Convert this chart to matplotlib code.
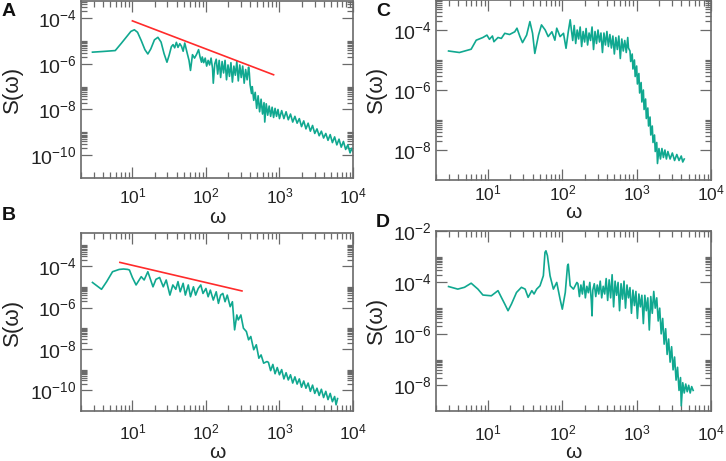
import numpy as np
import matplotlib
matplotlib.use("Agg")
import matplotlib.pyplot as plt
from matplotlib.ticker import FixedLocator, FuncFormatter, NullFormatter

plt.rcParams['font.family'] = ['Liberation Sans', 'DejaVu Sans']

# spectra, stored as log10(omega), log10(S)
a_lw = [0.457, 0.60, 0.767, 0.85, 0.93, 0.98, 1.027, 1.07, 1.12, 1.17, 1.21, 1.25, 1.30, 1.347,
        1.39, 1.43, 1.47, 1.50, 1.53, 1.553, 1.575, 1.598, 1.62, 1.645, 1.667, 1.69, 1.712, 1.744,
        1.77, 1.79, 1.817, 1.845, 1.872, 1.90, 1.92, 1.94,
        1.95, 1.97, 1.99, 2.01, 2.03, 2.05, 2.07, 2.09, 2.10, 2.12, 2.14, 2.16, 2.18, 2.20, 2.22,
        2.24, 2.26, 2.28, 2.30, 2.32, 2.34, 2.36, 2.38, 2.40, 2.42, 2.44, 2.46, 2.48, 2.50, 2.52,
        2.54, 2.56, 2.58, 2.59, 2.60, 2.62, 2.63, 2.65, 2.67, 2.69, 2.71, 2.73, 2.75, 2.77, 2.79,
        2.80, 2.82, 2.84, 2.86, 2.88, 2.90, 2.92, 2.94, 2.96, 2.98, 3.00, 3.03, 3.06, 3.09, 3.12,
        3.15, 3.18, 3.21, 3.24, 3.27, 3.30, 3.33, 3.36, 3.39, 3.42, 3.45, 3.48, 3.51, 3.54, 3.57,
        3.60, 3.63, 3.66, 3.69, 3.72, 3.75, 3.78, 3.81, 3.84, 3.87, 3.90, 3.93, 3.96, 3.98, 4.00]
a_ls = [-5.49, -5.46, -5.42, -5.10, -4.78, -4.58, -4.51, -4.62, -4.98, -5.38, -5.57, -5.35, -4.95, -4.84,
        -5.05, -5.55, -5.93, -5.62, -5.25, -5.16, -5.30, -5.06, -5.28, -5.12, -5.23, -5.45, -5.09, -5.52,
        -5.85, -6.29, -5.60, -5.75, -5.59, -5.38, -5.70, -5.93,
        -5.70, -5.95, -5.75, -6.10, -5.85, -6.05, -5.75, -6.20, -6.85, -6.00, -5.80, -6.45, -5.85, -6.60, -5.90,
        -6.40, -5.85, -6.70, -6.05, -6.55, -5.95, -6.80, -6.10, -6.50, -5.90, -6.75, -6.05, -6.60, -6.10, -6.85,
        -6.25, -6.70, -6.15, -6.40, -6.90, -7.30, -7.00, -7.60, -7.25, -7.95, -7.40, -8.10, -7.55, -8.20, -7.70,
        -8.55, -7.75, -8.25, -7.85, -8.30, -7.90, -8.35, -7.95, -8.30, -8.00, -8.40, -8.05, -8.40, -8.10, -8.45,
        -8.20, -8.55, -8.30, -8.60, -8.40, -8.75, -8.50, -8.85, -8.60, -8.95, -8.70, -9.05, -8.85, -9.15, -8.95,
        -9.25, -9.05, -9.35, -9.10, -9.45, -9.20, -9.55, -9.30, -9.65, -9.40, -9.75, -9.55, -9.90, -9.70, -9.85]

b_lw = [0.457, 0.58, 0.65, 0.73, 0.82, 0.88, 0.936, 0.96, 1.00, 1.05, 1.12, 1.16, 1.21, 1.28, 1.32,
        1.37, 1.42, 1.46, 1.51, 1.55, 1.59, 1.62, 1.65, 1.69, 1.72, 1.76, 1.79, 1.83, 1.86, 1.895,
        1.93, 1.96, 2.00, 2.03, 2.06, 2.10, 2.14, 2.17, 2.20, 2.23, 2.26, 2.29, 2.33, 2.36, 2.39,
        2.42, 2.44, 2.475, 2.51, 2.55, 2.58, 2.61, 2.65, 2.685, 2.72, 2.75, 2.785, 2.83,
        2.85, 2.88, 2.91, 2.94, 2.97, 3.00, 3.03, 3.06, 3.09, 3.12, 3.15, 3.18, 3.21, 3.24, 3.27,
        3.30, 3.33, 3.36, 3.39, 3.42, 3.45, 3.48, 3.51, 3.54, 3.57, 3.60, 3.63, 3.66, 3.69, 3.72,
        3.75, 3.77, 3.79]
b_ls = [-4.79, -5.12, -4.75, -4.27, -4.16, -4.14, -4.16, -4.19, -4.55, -4.91, -4.51, -4.67, -4.27, -5.00, -4.64,
        -4.55, -5.00, -4.67, -5.40, -4.91, -5.12, -4.75, -5.24, -4.83, -5.40, -4.91, -5.48, -5.00, -5.40, -5.08,
        -4.91, -5.32, -5.08, -5.48, -5.16, -5.64, -5.24, -5.80, -5.40, -5.32, -5.72, -5.40, -5.96, -5.72, -7.08,
        -6.36, -6.60, -6.36, -7.00, -7.16, -7.56, -7.40, -8.04, -7.80, -8.45, -8.29, -8.69, -8.61,
        -8.65, -9.05, -8.75, -9.20, -8.90, -9.25, -9.00, -9.45, -9.15, -9.50, -9.25, -9.65, -9.35, -9.70, -9.45,
        -9.85, -9.55, -9.90, -9.65, -10.05, -9.75, -10.15, -9.90, -10.25, -9.95, -10.35, -10.05, -10.45, -10.15, -10.55,
        -10.30, -10.70, -10.40]

c_lw = [0.47, 0.616, 0.774, 0.842, 0.932, 0.986, 1.02, 1.06, 1.08, 1.135, 1.18, 1.226, 1.29, 1.36,
        1.39, 1.43, 1.465, 1.52, 1.564, 1.60, 1.63, 1.68, 1.72, 1.77, 1.81, 1.86, 1.90, 1.925, 1.97,
        2.016, 2.05, 2.08, 2.106,
        2.12, 2.14, 2.16, 2.18, 2.20, 2.22, 2.24, 2.26, 2.28, 2.30, 2.32, 2.34, 2.36, 2.38, 2.40,
        2.42, 2.44, 2.46, 2.48, 2.50, 2.52, 2.54, 2.56, 2.58, 2.60, 2.62, 2.64, 2.66, 2.68, 2.70,
        2.72, 2.74, 2.76, 2.78, 2.80, 2.82, 2.84, 2.86, 2.88, 2.89, 2.91, 2.92, 2.94, 2.95, 2.97,
        2.98, 3.00, 3.01, 3.03, 3.04, 3.06, 3.07, 3.09, 3.10, 3.12, 3.13, 3.15, 3.16, 3.18, 3.19,
        3.21, 3.22, 3.24, 3.25, 3.27, 3.28, 3.30, 3.32, 3.34, 3.36, 3.38, 3.40, 3.42, 3.45, 3.48,
        3.51, 3.54, 3.57, 3.60, 3.62, 3.64]
c_ls = [-4.70, -4.75, -4.64, -4.34, -4.25, -4.17, -4.31, -4.20, -4.39, -4.25, -4.28, -4.11, -4.15, -4.06,
        -3.94, -4.22, -4.42, -4.17, -3.72, -4.11, -4.78, -4.17, -3.83, -4.00, -4.22, -4.06, -4.34, -3.94, -4.22,
        -4.11, -4.61, -4.06, -3.66,
        -3.95, -4.35, -3.85, -4.45, -4.00, -4.30, -3.90, -4.55, -4.05, -4.40, -3.95, -4.50, -4.10, -4.35, -3.90,
        -4.65, -4.05, -4.45, -4.00, -4.40, -4.10, -4.75, -4.10, -4.50, -4.05, -4.55, -4.15, -4.60, -4.20, -4.80,
        -4.25, -4.65, -4.20, -4.95, -4.30, -4.70, -4.35, -4.75, -4.25, -4.60, -4.70, -5.05, -4.80, -5.30, -5.00,
        -5.55, -5.20, -5.80, -5.45, -6.10, -5.75, -6.40, -6.00, -6.65, -6.30, -6.95, -6.60, -7.20, -6.90, -7.50,
        -7.20, -7.75, -7.50, -8.05, -7.75, -8.45, -7.95, -8.30, -7.95, -8.25, -8.00, -8.30, -8.05, -8.30, -8.10,
        -8.35, -8.15, -8.35, -8.20, -8.40, -8.30]

d_lw = [0.47, 0.594, 0.684, 0.774, 0.865, 0.932, 1.045, 1.135, 1.18, 1.226, 1.27, 1.316, 1.384, 1.45,
        1.50, 1.54, 1.59, 1.62, 1.655, 1.70, 1.745, 1.767, 1.78, 1.80, 1.835, 1.88, 1.925, 1.97, 2.00,
        2.04, 2.07, 2.08, 2.106, 2.15, 2.196,
        2.21, 2.23, 2.25, 2.27, 2.29, 2.31, 2.33, 2.35, 2.37, 2.39, 2.40, 2.41, 2.43, 2.45, 2.47,
        2.49, 2.51, 2.53, 2.55, 2.57, 2.59, 2.61, 2.63, 2.65, 2.67, 2.69, 2.71, 2.73, 2.75, 2.77,
        2.79, 2.81, 2.83, 2.85, 2.87, 2.89, 2.91, 2.93, 2.95, 2.97, 2.99, 3.01, 3.03, 3.05, 3.07,
        3.09, 3.11, 3.13, 3.15, 3.17, 3.19, 3.21, 3.23, 3.25, 3.27, 3.29, 3.31, 3.33, 3.35, 3.37,
        3.39, 3.41, 3.43, 3.45, 3.47, 3.49, 3.51, 3.53, 3.55, 3.57, 3.59, 3.60, 3.62, 3.64, 3.66,
        3.68, 3.70, 3.72, 3.74, 3.76]
d_ls = [-4.16, -4.26, -4.19, -4.03, -4.26, -4.49, -4.52, -4.32, -4.58, -4.84, -5.10, -4.84, -4.39, -4.19,
        -4.26, -4.58, -4.32, -4.45, -4.26, -4.13, -3.74, -2.83, -2.77, -2.96, -3.74, -4.26, -4.00, -4.65, -5.04,
        -4.39, -3.35, -3.29, -4.13, -4.26, -4.00,
        -4.05, -4.55, -4.10, -4.45, -3.95, -4.60, -4.15, -4.40, -4.00, -4.70, -5.30, -4.30, -4.05, -4.55, -4.10,
        -4.45, -3.95, -4.60, -4.15, -4.45, -3.85, -4.70, -3.90, -4.60, -3.70, -4.95, -3.95, -4.50, -4.00, -5.10,
        -4.05, -4.65, -3.95, -5.00, -4.10, -4.60, -4.20, -5.20, -4.30, -4.90, -4.35, -5.40, -4.45, -4.95, -4.50,
        -5.60, -4.50, -5.10, -4.60, -5.85, -4.55, -5.20, -4.35, -5.00, -4.60, -5.50, -5.00, -6.00, -5.40, -6.40,
        -5.80, -6.80, -6.20, -7.10, -6.50, -7.40, -6.90, -7.80, -7.30, -8.20, -7.70, -8.80, -7.90, -8.30, -7.95,
        -8.25, -8.00, -8.30, -8.05, -8.20]

# red guide lines (end points)
a_fit_lw = [1.0, 2.92]
a_fit_ls = [-4.12, -6.48]
b_fit_lw = [0.83, 2.49]
b_fit_ls = [-3.82, -5.20]

W, H = 726, 461
TEAL = '#10a890'
RED = '#ff2b2b'
GREY = '#6a6a6a'


def px_box(left, top, right, bottom):
    return [left / W, 1 - bottom / H, (right - left) / W, (bottom - top) / H]


def style_axes(ax, ylim, ydecades, xpad):
    ax.set_xscale('log')
    ax.set_yscale('log')
    ax.set_xlim(2, 1e4)
    ax.set_ylim(*ylim)
    ax.xaxis.set_major_locator(FixedLocator([1e1, 1e2, 1e3, 1e4]))
    xminor = [m * 10.0 ** k for k in range(0, 4) for m in range(2, 10)]
    ax.xaxis.set_minor_locator(FixedLocator(xminor))
    ax.yaxis.set_major_locator(FixedLocator([10.0 ** k for k in ydecades]))
    yminor = [m * 10.0 ** k for k in ydecades for m in range(2, 11)]
    ax.yaxis.set_minor_locator(FixedLocator(yminor))
    fmt = FuncFormatter(lambda v, p: r'$\mathregular{10^{%d}}$' % round(np.log10(v)))
    ax.xaxis.set_major_formatter(fmt)
    ax.yaxis.set_major_formatter(fmt)
    ax.xaxis.set_minor_formatter(NullFormatter())
    ax.yaxis.set_minor_formatter(NullFormatter())
    ax.tick_params(which='both', direction='in', top=True, right=True, color=GREY, width=0.9)
    ax.tick_params(which='major', length=8)
    ax.tick_params(which='minor', length=4)
    ax.tick_params(axis='x', which='major', labelsize=12.5, pad=xpad, labelcolor='#222222')
    ax.tick_params(axis='y', which='major', labelsize=14, pad=3, labelcolor='#222222')
    for s in ax.spines.values():
        s.set_color(GREY)
        s.set_linewidth(1.2)


fig = plt.figure(figsize=(W / 100, H / 100), dpi=100)

ax_a = fig.add_axes(px_box(81, 1, 353, 178))
ax_b = fig.add_axes(px_box(81, 233, 353, 411))
ax_c = fig.add_axes(px_box(436, 0, 711, 180))
ax_d = fig.add_axes(px_box(436, 231, 711, 411))

ax_a.plot(np.power(10, a_lw), np.power(10, a_ls), color=TEAL, lw=1.2)
ax_a.plot(np.power(10, a_fit_lw), np.power(10, a_fit_ls), color=RED, lw=1.2)
style_axes(ax_a, (1e-11, 10 ** -3.25), [-10, -8, -6, -4], 6)

ax_b.plot(np.power(10, b_lw), np.power(10, b_ls), color=TEAL, lw=1.2)
ax_b.plot(np.power(10, b_fit_lw), np.power(10, b_fit_ls), color=RED, lw=1.2)
style_axes(ax_b, (1e-11, 10 ** -2.4), [-10, -8, -6, -4], 8.5)

ax_c.plot(np.power(10, c_lw), np.power(10, c_ls), color=TEAL, lw=1.2)
style_axes(ax_c, (1e-9, 1e-3), [-8, -6, -4], 2.5)

ax_d.plot(np.power(10, d_lw), np.power(10, d_ls), color=TEAL, lw=1.2)
style_axes(ax_d, (1e-9, 1e-2), [-8, -6, -4, -2], 9)

# axis titles and panel letters in pixel positions
def ftext(x, y, s, **kw):
    fig.text(x / W, 1 - y / H, s, **kw)

for x, y in [(217, 217), (217, 452), (573, 212), (573, 452)]:
    ftext(x, y, 'ω', fontsize=15, ha='center', va='center', color='#222222')
for x, y in [(12, 89), (12, 322), (376, 89), (376, 320)]:
    ftext(x, y, 'S(ω)', fontsize=16, rotation=90, ha='center', va='center', color='#222222')
for x, y, s in [(2, 12, 'A'), (2, 215, 'B'), (376, 12, 'C'), (376, 222, 'D')]:
    ftext(x, y, s, fontsize=14, fontweight='bold', ha='left', va='center', color='#111111')

fig.savefig('out.png', dpi=100)
